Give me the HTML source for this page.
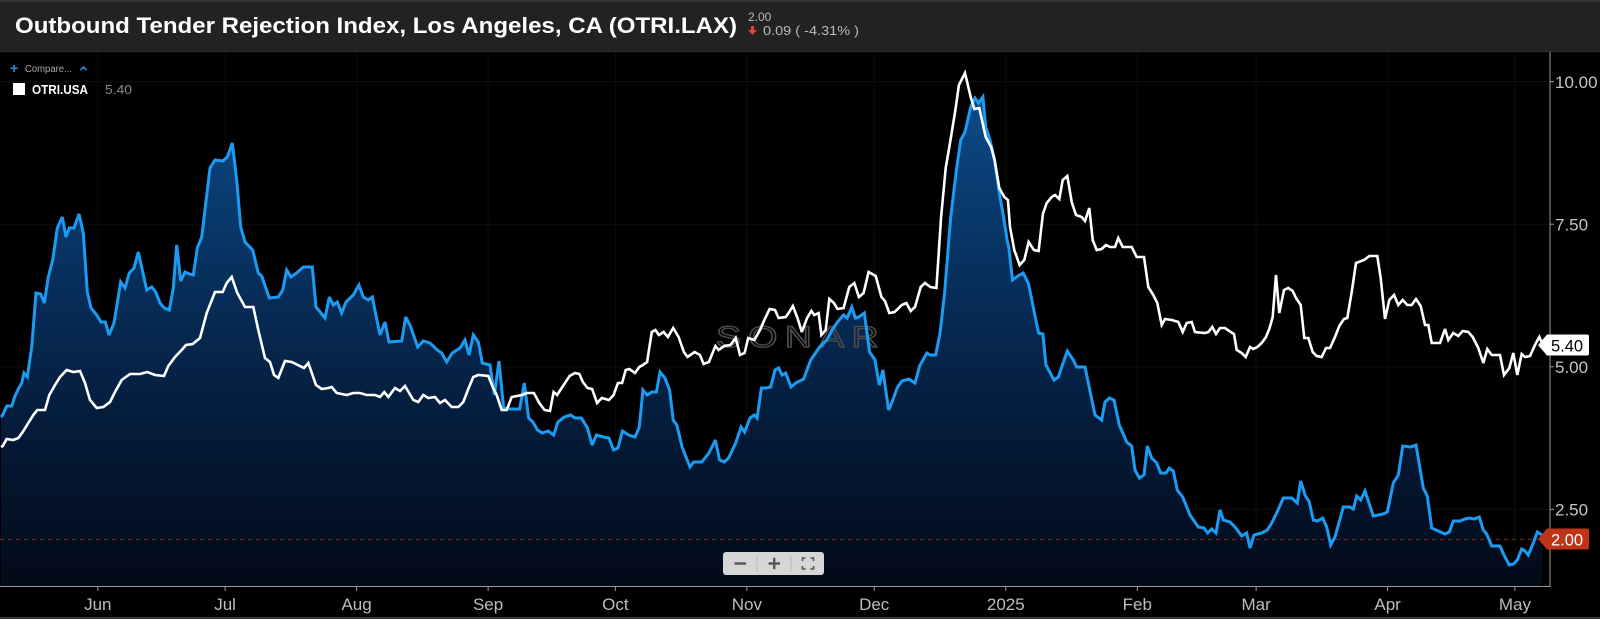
<!DOCTYPE html>
<html><head><meta charset="utf-8"><style>
html,body{margin:0;padding:0;background:#000;}
svg{display:block;}
text{font-family:"Liberation Sans",sans-serif;}
</style></head><body>
<svg width="1600" height="619" viewBox="0 0 1600 619" xmlns="http://www.w3.org/2000/svg">
<defs>
<linearGradient id="fg" gradientUnits="userSpaceOnUse" x1="0" y1="80" x2="0" y2="586">
<stop offset="0" stop-color="#0d4d8c"/>
<stop offset="0.35" stop-color="#083261"/>
<stop offset="0.7" stop-color="#041a38"/>
<stop offset="1" stop-color="#030a18"/>
</linearGradient>
</defs>
<rect x="0" y="0" width="1600" height="619" fill="#000"/>
<!-- header -->
<rect x="0" y="0" width="1600" height="52" fill="#222"/>
<rect x="0" y="0" width="1600" height="2" fill="#333"/>
<rect x="0" y="51" width="1600" height="1" fill="#2e2e2e"/>
<text x="15" y="33" font-size="22" font-weight="bold" fill="#fff" textLength="722" lengthAdjust="spacingAndGlyphs">Outbound Tender Rejection Index, Los Angeles, CA (OTRI.LAX)</text>
<text x="748" y="21" font-size="12" fill="#bbb">2.00</text>
<path d="M751,26 h3 v4 h3 l-4.5,5 l-4.5,-5 h3 z" fill="#e0453a"/>
<text x="763" y="35" font-size="13" fill="#bbb" textLength="96" lengthAdjust="spacingAndGlyphs">0.09 ( -4.31% )</text>
<!-- grid -->
<g stroke="#ffffff" stroke-opacity="0.05" stroke-width="1">
<line x1="97.8" y1="52" x2="97.8" y2="586"/><line x1="225.1" y1="52" x2="225.1" y2="586"/><line x1="356.6" y1="52" x2="356.6" y2="586"/><line x1="488.1" y1="52" x2="488.1" y2="586"/><line x1="615.4" y1="52" x2="615.4" y2="586"/><line x1="746.9" y1="52" x2="746.9" y2="586"/><line x1="874.2" y1="52" x2="874.2" y2="586"/><line x1="1005.8" y1="52" x2="1005.8" y2="586"/><line x1="1137.3" y1="52" x2="1137.3" y2="586"/><line x1="1256.1" y1="52" x2="1256.1" y2="586"/><line x1="1387.6" y1="52" x2="1387.6" y2="586"/><line x1="1514.9" y1="52" x2="1514.9" y2="586"/>
<line x1="0" y1="81.6" x2="1550" y2="81.6"/><line x1="0" y1="224.2" x2="1550" y2="224.2"/><line x1="0" y1="366.8" x2="1550" y2="366.8"/><line x1="0" y1="509.4" x2="1550" y2="509.4"/>
</g>
<!-- legend -->
<text x="10" y="73" font-size="14" fill="#2a8ee0" font-weight="bold">+</text>
<text x="25" y="72" font-size="10" fill="#aaa" textLength="47" lengthAdjust="spacingAndGlyphs">Compare...</text>
<path d="M80.5,70 l3,-3 l3,3" fill="none" stroke="#2a8ee0" stroke-width="1.6"/>
<rect x="13" y="83" width="12" height="12" fill="#fff"/>
<text x="32" y="94" font-size="13" font-weight="bold" fill="#fff" textLength="56" lengthAdjust="spacingAndGlyphs">OTRI.USA</text>
<text x="105" y="94" font-size="13" fill="#8a8a8a" textLength="27" lengthAdjust="spacingAndGlyphs">5.40</text>
<!-- fill -->
<path fill="url(#fg)" d="M1,586 L1,417 2.7,415 6.7,406 11.7,406 15,396 18.3,389 21.7,383 24,373 27.3,377 31.7,347 36,293 40.7,294 44.3,303 48.3,277 52.7,260 57.3,228 62.3,217 66,237 69.3,228 74,228 79,214 83.3,233 87.3,292 91,308 96.7,315 101,322 105.3,322 109,335 114,323 120.7,282 125,288 129.3,273 134,268 138.3,252 146.7,290 151.7,287 155.7,292 160,303 164.3,308 169.3,310 173.3,288 176.7,245 180.7,281 185,272 189.3,274 193.3,275 197.3,248 201.7,237 210,168 215,160 222.7,161 227.3,157 232.3,143 236.7,180 240.7,227 245,242 252.7,250 258.3,273 261.7,276 269.3,298 278.3,297 282.7,290 286.7,270 291,277 296.7,273 303.3,267 312.3,267 316,307 325,318 329.3,297 333.3,305 337.3,302 341.7,313 346,302 353.3,295 359,285 363.3,297 368.3,300 372.3,297 380,335 385,322 389,342 401.7,341 405.7,317 410,325 417.7,347 423.3,341 430,343 437.3,350 441.7,353 446.7,362 452.3,353 460,348 465,340 469,355 473.3,335 478.3,342 482.3,363 490,365 494.3,395 499,361 503.6,408 510.7,409 519.6,409 524.3,383 528.6,418 532.9,422 537.5,430 542.1,433 548.2,431 553.6,435 557.9,422 564.3,417 570.7,415 575,418 581.4,418 587.5,428 592.1,445 596.4,435 603.6,437 608.9,438 613.6,450 617.9,448 622.5,431 628.6,435 635,437 639.3,427 642.9,390 647.1,395 651.8,392 656.4,392 660,372 665,378 669.6,390 673.2,420 676.8,425 682.1,447 690,467 693.6,462 701.8,462 708.9,453 715.4,440 719.6,460 724.3,462 728.6,458 735.7,443 741.1,427 744.6,432 750,418 754.3,415 757.1,418 761.4,388 766.1,388 770.7,387 775,370 778.6,368 782.1,375 785.7,373 791.1,387 795.7,383 803.6,379 810.7,360 819.6,347 826.8,340 832.1,330 837.5,322 843.6,315 847.1,318 851.8,307 855.4,318 858.9,317 864.3,313 869.6,352 875,360 879.3,385 882.9,370 888.6,410 892.1,402 897.1,388 901.8,381 908.9,379 915,383 919.6,366 926.8,353 930.4,355 935.7,355 940,333 944.6,293 950.7,217 956.4,170 960.7,140 965,132 970.7,107 975,98 978.6,103 982.9,97 985.7,127 990,140 994.6,160 999.3,193 1003.6,217 1007.1,240 1008.9,248 1012.5,280 1017.9,276 1023.2,273 1028.6,284 1033.2,307 1038.6,333 1042.9,334 1046,365 1054,380 1058.3,377 1067.3,351 1073.3,360 1076.7,367 1085,367 1095,415 1101.7,420 1105,402 1109.3,398 1114,400 1119.3,425 1126.7,442 1131.7,446 1135,470 1139.3,478 1144,475 1147.3,446 1151.7,458 1156.7,463 1160.7,473 1166,473 1169.3,468 1173.3,471 1177.3,490 1182.7,497 1190,515 1198.3,527 1204,528 1207.7,533 1211.7,529 1216,533 1220,510 1223.3,520 1230,522 1235,527 1241.7,536 1246.7,533 1250,548 1254,535 1261.7,533 1267.3,530 1271.7,523 1276.7,513 1283.3,498 1291.7,498 1297.3,503 1300.7,481 1305,495 1309.3,502 1313.3,520 1317.3,521 1322.7,518 1326.7,527 1330.7,545 1335,537 1343.3,507 1350,507 1353.3,509 1356.7,496 1360.7,500 1365,491 1373.3,516 1383.3,514 1387.3,512 1393.3,483 1398.3,475 1402.7,446 1410.7,447 1416,445 1423.3,488 1427.3,496 1431.7,528 1438.3,531 1445,534 1449.3,532 1453.3,521 1460,521 1465,519 1470,518 1474,519 1479.3,517 1483.3,530 1486.7,534 1491.7,546 1500,546 1504,555 1509.3,565 1513.3,564 1517.3,560 1521.7,549 1525,551 1528.3,555 1533.3,543 1537.3,532 1542,535 L1542,586 Z"/>
<!-- dashed 2.00 line -->
<line x1="0" y1="539.5" x2="1538" y2="539.5" stroke="#7a1e12" stroke-width="1.3" stroke-dasharray="4,4"/>
<!-- watermark -->
<text x="716" y="347" font-size="30" fill="none" stroke="#4a4a4a" stroke-width="1.4" textLength="170" lengthAdjust="spacingAndGlyphs" letter-spacing="6">SONAR</text>
<!-- blue line -->
<polyline fill="none" stroke="#1b9cf2" stroke-width="3" stroke-linejoin="miter" stroke-miterlimit="3" points="1,417 2.7,415 6.7,406 11.7,406 15,396 18.3,389 21.7,383 24,373 27.3,377 31.7,347 36,293 40.7,294 44.3,303 48.3,277 52.7,260 57.3,228 62.3,217 66,237 69.3,228 74,228 79,214 83.3,233 87.3,292 91,308 96.7,315 101,322 105.3,322 109,335 114,323 120.7,282 125,288 129.3,273 134,268 138.3,252 146.7,290 151.7,287 155.7,292 160,303 164.3,308 169.3,310 173.3,288 176.7,245 180.7,281 185,272 189.3,274 193.3,275 197.3,248 201.7,237 210,168 215,160 222.7,161 227.3,157 232.3,143 236.7,180 240.7,227 245,242 252.7,250 258.3,273 261.7,276 269.3,298 278.3,297 282.7,290 286.7,270 291,277 296.7,273 303.3,267 312.3,267 316,307 325,318 329.3,297 333.3,305 337.3,302 341.7,313 346,302 353.3,295 359,285 363.3,297 368.3,300 372.3,297 380,335 385,322 389,342 401.7,341 405.7,317 410,325 417.7,347 423.3,341 430,343 437.3,350 441.7,353 446.7,362 452.3,353 460,348 465,340 469,355 473.3,335 478.3,342 482.3,363 490,365 494.3,395 499,361 503.6,408 510.7,409 519.6,409 524.3,383 528.6,418 532.9,422 537.5,430 542.1,433 548.2,431 553.6,435 557.9,422 564.3,417 570.7,415 575,418 581.4,418 587.5,428 592.1,445 596.4,435 603.6,437 608.9,438 613.6,450 617.9,448 622.5,431 628.6,435 635,437 639.3,427 642.9,390 647.1,395 651.8,392 656.4,392 660,372 665,378 669.6,390 673.2,420 676.8,425 682.1,447 690,467 693.6,462 701.8,462 708.9,453 715.4,440 719.6,460 724.3,462 728.6,458 735.7,443 741.1,427 744.6,432 750,418 754.3,415 757.1,418 761.4,388 766.1,388 770.7,387 775,370 778.6,368 782.1,375 785.7,373 791.1,387 795.7,383 803.6,379 810.7,360 819.6,347 826.8,340 832.1,330 837.5,322 843.6,315 847.1,318 851.8,307 855.4,318 858.9,317 864.3,313 869.6,352 875,360 879.3,385 882.9,370 888.6,410 892.1,402 897.1,388 901.8,381 908.9,379 915,383 919.6,366 926.8,353 930.4,355 935.7,355 940,333 944.6,293 950.7,217 956.4,170 960.7,140 965,132 970.7,107 975,98 978.6,103 982.9,97 985.7,127 990,140 994.6,160 999.3,193 1003.6,217 1007.1,240 1008.9,248 1012.5,280 1017.9,276 1023.2,273 1028.6,284 1033.2,307 1038.6,333 1042.9,334 1046,365 1054,380 1058.3,377 1067.3,351 1073.3,360 1076.7,367 1085,367 1095,415 1101.7,420 1105,402 1109.3,398 1114,400 1119.3,425 1126.7,442 1131.7,446 1135,470 1139.3,478 1144,475 1147.3,446 1151.7,458 1156.7,463 1160.7,473 1166,473 1169.3,468 1173.3,471 1177.3,490 1182.7,497 1190,515 1198.3,527 1204,528 1207.7,533 1211.7,529 1216,533 1220,510 1223.3,520 1230,522 1235,527 1241.7,536 1246.7,533 1250,548 1254,535 1261.7,533 1267.3,530 1271.7,523 1276.7,513 1283.3,498 1291.7,498 1297.3,503 1300.7,481 1305,495 1309.3,502 1313.3,520 1317.3,521 1322.7,518 1326.7,527 1330.7,545 1335,537 1343.3,507 1350,507 1353.3,509 1356.7,496 1360.7,500 1365,491 1373.3,516 1383.3,514 1387.3,512 1393.3,483 1398.3,475 1402.7,446 1410.7,447 1416,445 1423.3,488 1427.3,496 1431.7,528 1438.3,531 1445,534 1449.3,532 1453.3,521 1460,521 1465,519 1470,518 1474,519 1479.3,517 1483.3,530 1486.7,534 1491.7,546 1500,546 1504,555 1509.3,565 1513.3,564 1517.3,560 1521.7,549 1525,551 1528.3,555 1533.3,543 1537.3,532 1542,535"/>
<!-- white line -->
<polyline fill="none" stroke="#ffffff" stroke-width="2.6" stroke-linejoin="miter" stroke-miterlimit="3" points="1,447 2.7,446 6.7,439 13.3,440 18.3,438 22.7,432 28.3,423 33.3,415 37.3,410 45,410 49.3,395 55,385 60,377 66.7,370 73.3,372 80,371 85,383 90,400 96.7,408 103.3,407 110,402 115,392 121.7,380 130,374 140,374 147.3,372 155,375 164,376 168.3,366 175,357 181.7,350 186,345 192.7,344 200,338 206.7,313 215,292 222.7,292 226.7,283 231.7,277 237.3,293 245,307 253.3,307 258.3,330 265,358 270,362 274,375 278.3,378 285,361 291.7,362 304,368 308.3,363 316,385 321.7,389 328.3,388 331.7,387 336.7,393 346.7,395 353.3,393 360,393 366.7,395 375,395 380,397 384.3,392 388.3,397 395,388 400,391 405,386 413.3,400 418.3,402 423.3,395 428.3,398 435,397 440,403 445,400 451.7,407 458.3,407 463.3,402 468.3,389 473.3,377 478.3,375 488.3,376 492.7,387 496.7,395 501.7,410 506.7,410 511.7,397 522.1,395 526.8,393 533.9,393 539.3,403 544.6,410 550,411 553.6,392 557.1,395 563.6,385 569.6,376 575,373 579.3,374 582.9,382 587.5,388 592.1,389 597.1,403 601.8,398 608.9,400 613.6,395 617.9,383 622.1,383 625.7,370 629.3,369 635,373 639.3,367 642.9,365 647.1,362 651.8,332 655.4,330 658.9,335 663.6,332 667.9,337 673.2,328 678.6,337 683.9,352 687.5,357 694.6,352 700,355 703.6,364 708.9,362 715.4,346 718.6,350 724.3,346 730.4,345 735.7,338 740,355 744.6,353 748.2,338 754.3,340 760,330 764.3,320 769.6,309 775,310 778.6,318 785.7,317 788.6,313 792.9,306 797.5,318 801.8,332 807.1,318 811.4,311 814.3,315 818.6,313 821.4,335 825.7,330 829.3,299 833.9,303 837.5,309 843.6,308 849.3,287 854.3,283 858.9,297 863.6,293 868.6,272 875.7,276 881.4,297 885,301 889.3,313 894.6,312 901.8,305 906.4,303 910.7,311 915,307 920.7,287 925,283 930.4,287 936.4,288 941.1,217 945.7,168 950,143 955.4,110 958.9,85 965,73 970.7,97 974.3,109 979.3,108 985.7,137 991.1,147 994.6,160 999.3,188 1004.3,197 1007.9,200 1010,227 1014.3,250 1019.6,265 1024.3,260 1028.6,242 1033.9,250 1038.6,251 1042.9,214 1046.7,203 1051.7,197 1055,195 1059.3,199 1062.7,180 1067.3,176 1071.7,202 1076,215 1081.7,217 1085,221 1089.3,208 1092.7,240 1096.7,250 1101.7,249 1106,245 1110,247 1115,247 1118.3,238 1122.7,247 1127.3,247 1131.7,247 1136.7,257 1144,257 1148.3,287 1153.3,295 1157.3,303 1161.7,325 1165,319 1171.7,320 1178.3,322 1182.7,332 1186.7,323 1191.7,322 1195,332 1205,333 1208.3,332 1212.3,327 1216,334 1220,328 1225,328 1230.7,332 1234,334 1236.7,350 1241.7,353 1245.7,357 1250,347 1253.3,349 1257.3,347 1261.7,343 1266,337 1269.3,329 1272.7,317 1276,275 1279.3,313 1284,290 1288.3,288 1292.7,291 1296,298 1300.7,305 1304.3,338 1308.3,338 1312.7,352 1316.7,356 1321.7,357 1326,348 1330,348 1335,337 1339.3,326 1344,319 1347.3,318 1351.7,292 1356,263 1364,260 1369.3,256 1377.3,256 1380.7,278 1385,319 1389.3,300 1394,295 1398.3,305 1402.7,300 1407.3,305 1411.7,305 1416,299 1420.7,306 1425,325 1428.3,325 1431.7,343 1440,343 1445,329 1448.3,340 1453.3,333 1458.3,336 1462.7,331 1468.3,332 1472.7,337 1478.3,348 1483.3,363 1487.3,349 1491.7,355 1500,355 1504,375 1509.3,368 1513.3,353 1517.3,375 1521.7,354 1525,357 1530,356 1535,345 1539.3,337 1542,343"/>
<!-- axes -->
<line x1="1550" y1="52" x2="1550" y2="587" stroke="#9a9a9a" stroke-width="1"/>
<line x1="0" y1="586.5" x2="1550" y2="586.5" stroke="#9a9a9a" stroke-width="1"/>
<g stroke="#9a9a9a" stroke-width="1">
<line x1="1550" y1="81.6" x2="1554" y2="81.6"/><line x1="1550" y1="224.2" x2="1554" y2="224.2"/><line x1="1550" y1="366.8" x2="1554" y2="366.8"/><line x1="1550" y1="509.4" x2="1554" y2="509.4"/>
<line x1="97.8" y1="587" x2="97.8" y2="591"/><line x1="225.1" y1="587" x2="225.1" y2="591"/><line x1="356.6" y1="587" x2="356.6" y2="591"/><line x1="488.1" y1="587" x2="488.1" y2="591"/><line x1="615.4" y1="587" x2="615.4" y2="591"/><line x1="746.9" y1="587" x2="746.9" y2="591"/><line x1="874.2" y1="587" x2="874.2" y2="591"/><line x1="1005.8" y1="587" x2="1005.8" y2="591"/><line x1="1137.3" y1="587" x2="1137.3" y2="591"/><line x1="1256.1" y1="587" x2="1256.1" y2="591"/><line x1="1387.6" y1="587" x2="1387.6" y2="591"/><line x1="1514.9" y1="587" x2="1514.9" y2="591"/>
</g>
<g font-size="17" fill="#c4c4c4">
<text x="1555" y="88">10.00</text>
<text x="1555" y="230.5">7.50</text>
<text x="1555" y="373">5.00</text>
<text x="1555" y="515.5">2.50</text>
</g>
<g font-size="17" fill="#bdbdbd" text-anchor="middle">
<text x="97.8" y="610">Jun</text><text x="225.1" y="610">Jul</text><text x="356.6" y="610">Aug</text><text x="488.1" y="610">Sep</text><text x="615.4" y="610">Oct</text><text x="746.9" y="610">Nov</text><text x="874.2" y="610">Dec</text><text x="1005.8" y="610">2025</text><text x="1137.3" y="610">Feb</text><text x="1256.1" y="610">Mar</text><text x="1387.6" y="610">Apr</text><text x="1514.9" y="610">May</text>
</g>
<!-- value tags -->
<path d="M1538,345 L1547,334.5 H1587 Q1589,334.5 1589,336.5 V353.5 Q1589,355.5 1587,355.5 H1547 Z" fill="#fff"/>
<text x="1551" y="351.5" font-size="16.5" fill="#000">5.40</text>
<path d="M1538,539 L1547,528.5 H1587 Q1589,528.5 1589,530.5 V547.5 Q1589,549.5 1587,549.5 H1547 Z" fill="#bf3417"/>
<text x="1551" y="545.5" font-size="16.5" fill="#fff">2.00</text>
<!-- zoom controls -->
<rect x="723" y="552" width="101" height="23" rx="3" fill="#d6d6d6"/>
<line x1="757" y1="555" x2="757" y2="572" stroke="#bcbcbc"/>
<line x1="791" y1="555" x2="791" y2="572" stroke="#bcbcbc"/>
<line x1="734.5" y1="563.5" x2="746" y2="563.5" stroke="#555" stroke-width="2.4"/>
<line x1="768.5" y1="563.5" x2="780" y2="563.5" stroke="#555" stroke-width="2.4"/>
<line x1="774.2" y1="557.8" x2="774.2" y2="569.2" stroke="#555" stroke-width="2.4"/>
<path d="M802.5,561 v-3 h3 M810.5,558 h3 v3 M813.5,566 v3 h-3 M805.5,569 h-3 v-3" fill="none" stroke="#555" stroke-width="1.6"/>
<!-- bottom border -->
<rect x="0" y="617" width="1600" height="2" fill="#2a2a2a"/>
<rect x="0" y="617" width="1600" height="1" fill="#444"/>
</svg>
</body></html>
